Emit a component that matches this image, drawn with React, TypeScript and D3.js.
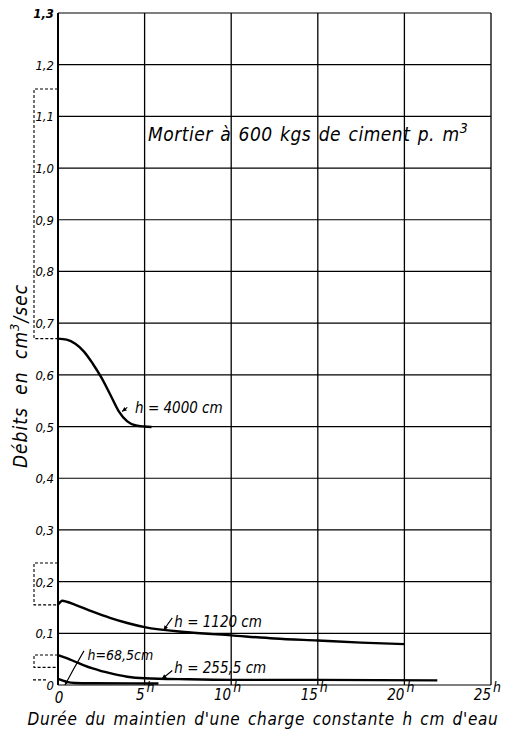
import React from 'react';
import * as d3 from 'd3';

// hours (abscissa) and flow values (cm3/sec)
const t4000 = [0, 0.5, 1, 1.5, 2, 2.5, 3, 3.5, 4, 4.5, 5, 5.4];
const q4000 = [0.67, 0.668, 0.66, 0.645, 0.622, 0.595, 0.563, 0.53, 0.51, 0.502, 0.5, 0.499];

const t1120 = [0, 0.25, 0.5, 1, 2, 3, 4, 5, 7.5, 10, 12.5, 15, 17.5, 20];
const q1120 = [0.155, 0.163, 0.161, 0.155, 0.142, 0.13, 0.12, 0.112, 0.102, 0.096, 0.09, 0.086, 0.082, 0.079];

const t2555 = [0, 0.5, 1, 1.5, 2, 2.5, 3, 3.5, 4, 5, 7.5, 10, 15, 21.9];
const q2555 = [0.058, 0.052, 0.045, 0.038, 0.032, 0.027, 0.023, 0.019, 0.016, 0.013, 0.011, 0.01, 0.01, 0.009];

const t685 = [0, 0.25, 0.5, 1, 2, 5.8];
const q685 = [0.012, 0.009, 0.006, 0.004, 0.0035, 0.003];

const yTicks = [0, 0.1, 0.2, 0.3, 0.4, 0.5, 0.6, 0.7, 0.8, 0.9, 1.0, 1.1, 1.2, 1.3];
const yLabels = ['0', '0,1', '0,2', '0,3', '0,4', '0,5', '0,6', '0,7', '0,8', '0,9', '1,0', '1,1', '1,2', '1,3'];
const xTicks = [0, 5, 10, 15, 20, 25];
const xLabels = ['0', '5', '10', '15', '20', '25'];

// dotted brackets on the left margin: [low, high]
const brackets = [
  [0.67, 1.153],
  [0.155, 0.236],
  [0.034, 0.058],
];

const FONT = "'DejaVu Sans Condensed', 'DejaVu Sans', sans-serif";

export default function App() {
  const width = 506;
  const height = 732;
  const x = d3.scaleLinear().domain([0, 25]).range([58, 491]);
  const y = d3.scaleLinear().domain([0, 1.3]).range([685, 13]);

  const line = d3
    .line<[number, number]>()
    .x((d) => x(d[0]))
    .y((d) => y(d[1]))
    .curve(d3.curveMonotoneX);

  const zip = (a: number[], b: number[]) => a.map((v, i) => [v, b[i]] as [number, number]);
  const curves = [zip(t4000, q4000), zip(t1120, q1120), zip(t2555, q2555), zip(t685, q685)];

  // leader with a small arrowhead pointing at the curve
  const leader = (x1: number, y1: number, x2: number, y2: number, key: string) => {
    const ang = Math.atan2(y2 - y1, x2 - x1);
    const a1 = ang + Math.PI - 0.45;
    const a2 = ang + Math.PI + 0.45;
    const L = 5;
    return (
      <g key={key}>
        <path d={`M${x1},${y1} Q${(x1 + x2) / 2 - 1},${(y1 + y2) / 2 + 1} ${x2},${y2}`} fill="none" stroke="#000" strokeWidth={1.1} />
        <path
          d={`M${x2},${y2} L${x2 + L * Math.cos(a1)},${y2 + L * Math.sin(a1)} L${x2 + L * Math.cos(a2)},${y2 + L * Math.sin(a2)} Z`}
          fill="#000"
        />
      </g>
    );
  };

  return (
    <svg width={width} height={height} style={{ position: 'absolute', left: 0, top: 0, background: '#fff' }}>
      <rect width={width} height={height} fill="#fff" />

      {/* grid */}
      {yTicks.map((v) => (
        <line key={'gy' + v} x1={x(0)} x2={x(25)} y1={y(v)} y2={y(v)} stroke="#000" strokeWidth={1.2} />
      ))}
      {xTicks.map((v) => (
        <line key={'gx' + v} x1={x(v)} x2={x(v)} y1={y(0)} y2={y(1.3)} stroke="#000" strokeWidth={v === 0 ? 2 : 1.3} />
      ))}

      {/* dotted brackets */}
      {brackets.map((b, i) => (
        <path
          key={'br' + i}
          d={`M${x(0)},${y(b[1])} H34 V${y(b[0])} H${x(0)}`}
          fill="none"
          stroke="#000"
          strokeWidth={1.1}
          strokeDasharray="3,2"
        />
      ))}
      <path d={`M33,${y(0.01)} H46`} stroke="#000" strokeWidth={1.1} strokeDasharray="3,2" />

      {/* curves */}
      {curves.map((c, i) => (
        <path key={'c' + i} d={line(c) || ''} fill="none" stroke="#000" strokeWidth={2.4} strokeLinejoin="round" />
      ))}

      {/* y tick labels */}
      {yTicks.map((v, i) => (
        <text
          key={'yl' + v}
          x={54}
          y={y(v) + 5}
          textAnchor="end"
          fontFamily={FONT}
          fontStyle="italic"
          fontSize={13}
          fontWeight={v === 1.3 ? 'bold' : 'normal'}
        >
          {yLabels[i]}
        </text>
      ))}

      {/* x tick labels */}
      {xTicks.map((v, i) =>
        v === 0 ? (
          <text key={'xl' + v} x={x(v) + 1} y={703} textAnchor="middle" fontFamily={FONT} fontStyle="italic" fontSize={15}>
            {xLabels[i]}
          </text>
        ) : (
          <g key={'xl' + v}>
            <text x={x(v)} y={700} textAnchor="end" fontFamily={FONT} fontStyle="italic" fontSize={15}>
              {xLabels[i]}
            </text>
            <text x={x(v) + 2} y={692} fontFamily={FONT} fontStyle="italic" fontSize={14}>
              h
            </text>
          </g>
        )
      )}

      {/* curve labels */}
      {leader(x(4.0), y(0.537), x(3.7), y(0.533) + 2, 'l1')}
      <text x={x(4.45)} y={y(0.532) + 3} fontFamily={FONT} fontStyle="italic" fontSize={15}>
        h = 4000 cm
      </text>

      {leader(x(6.6), y(0.13), x(6.1), y(0.106), 'l2')}
      <text x={x(6.6) + 2} y={y(0.115) + 1} fontFamily={FONT} fontStyle="italic" fontSize={15}>
        h = 1120 cm
      </text>

      {leader(x(1.5), y(0.066), x(0.4), y(0.0), 'l3')}
      <text x={x(1.7)} y={y(0.048)} fontFamily={FONT} fontStyle="italic" fontSize={14}>
        h=68,5cm
      </text>

      {leader(x(6.6), y(0.028), x(6.0), y(0.012), 'l4')}
      <text x={x(6.6) + 2} y={y(0.029) + 3} fontFamily={FONT} fontStyle="italic" fontSize={15}>
        h = 255,5 cm
      </text>

      {/* panel title */}
      <text x={148} y={141} fontFamily={FONT} fontStyle="italic" fontSize={19} letterSpacing={0.5} wordSpacing={1.5}>
        Mortier à 600 kgs de ciment p. m<tspan dy={-8} fontSize={14}>3</tspan>
      </text>

      {/* axis titles */}
      <text
        transform="translate(27,376) rotate(-90)"
        textAnchor="middle"
        fontFamily={FONT}
        fontStyle="italic"
        fontSize={19}
        letterSpacing={1}
        wordSpacing={6}
      >
        Débits en cm<tspan dy={-8} fontSize={13}>3</tspan>
        <tspan dy={8}>/sec</tspan>
      </text>
      <text
        x={263}
        y={725}
        textAnchor="middle"
        fontFamily={FONT}
        fontStyle="italic"
        fontSize={17}
        letterSpacing={0.7}
        wordSpacing={2}
      >
        Durée du maintien d'une charge constante h cm d'eau
      </text>
    </svg>
  );
}
